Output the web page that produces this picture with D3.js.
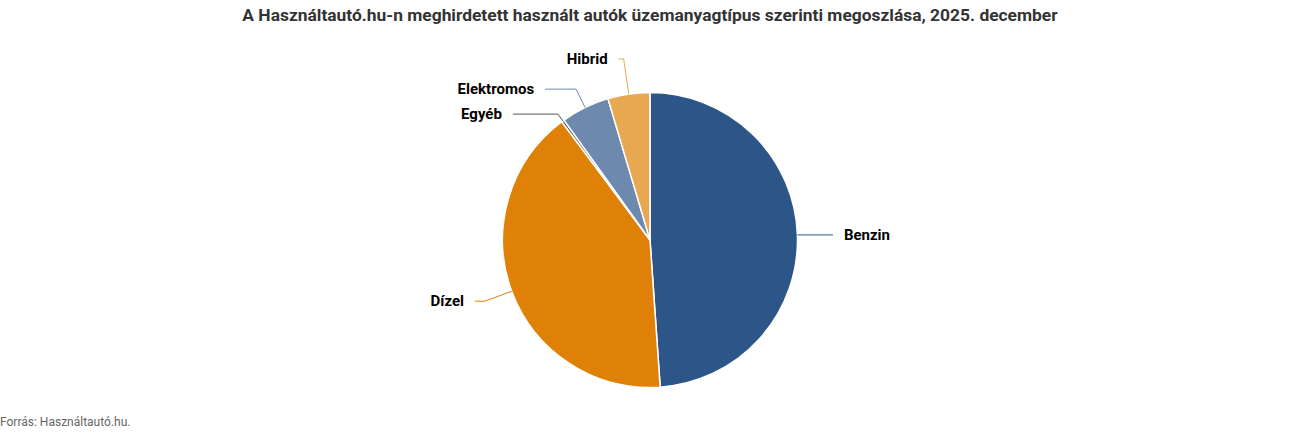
<!DOCTYPE html>
<html><head><meta charset="utf-8">
<script src="https://cdn.jsdelivr.net/npm/d3@7"></script>
<style>
body{margin:0;background:#fff;font-family:Roboto,"Noto Sans",sans-serif;}
</style></head><body>
<svg id="c" width="1300" height="433"></svg>
<script>
const categories = ["Benzin", "Dízel", "Egyéb", "Elektromos", "Hibrid"];
const shares = [48.9, 40.9, 0.3, 5.3, 4.6];
const title = "A Használtautó.hu-n meghirdetett használt autók üzemanyagtípus szerinti megoszlása, 2025. december";
const source = "Forrás: Használtautó.hu.";

const colors = ["#2c5688", "#df8106", "#555555", "#6d89ae", "#e8a852"];
// label layout: elbow radius, horizontal tail length
const elbowR = [158, 176, 156, 168, 183];
const tail = [25, 10, 45, 31, 5];

const svg = d3.select("#c");
const cx = 650, cy = 240, R = 147.5;

svg.append("text").attr("x", 650).attr("y", 21).attr("text-anchor", "middle")
  .attr("font-size", 17.4).attr("font-weight", 700).attr("fill", "#333").text(title);
svg.append("text").attr("x", 0).attr("y", 426).attr("font-size", 12)
  .attr("fill", "#666").text(source);

const data = categories.map((c, i) => ({cat: c, v: shares[i], i}));
const pie = d3.pie().sort(null).value(d => d.v);
const arcs = pie(data);
const arc = d3.arc().innerRadius(0).outerRadius(R);
const g = svg.append("g").attr("transform", `translate(${cx},${cy})`);
g.selectAll("path.s").data(arcs).join("path").attr("class", "s")
  .attr("d", arc).attr("fill", d => colors[d.data.i])
  .attr("stroke", "#fff").attr("stroke-width", 1.5).attr("stroke-linejoin", "round");

arcs.forEach(a => {
  const i = a.data.i;
  const m = (a.startAngle + a.endAngle) / 2;
  const ax = R * Math.sin(m), ay = -R * Math.cos(m);
  let bx = elbowR[i] * Math.sin(m), by = -elbowR[i] * Math.cos(m);
  const right = Math.sin(m) > 0;
  if (i === 0) by = ay;
  const ex = bx + (right ? tail[i] : -tail[i]);
  g.append("path").attr("d", `M${ax},${ay}L${bx},${by}L${ex},${by}`)
    .attr("fill", "none").attr("stroke", colors[i]).attr("stroke-width", 1);
  g.append("text").attr("x", ex + (right ? 11 : -11)).attr("y", by)
    .attr("dy", "0.35em").attr("text-anchor", right ? "start" : "end")
    .attr("font-size", 15).attr("font-weight", 700).attr("fill", "#000")
    .text(a.data.cat);
});
</script></body></html>
